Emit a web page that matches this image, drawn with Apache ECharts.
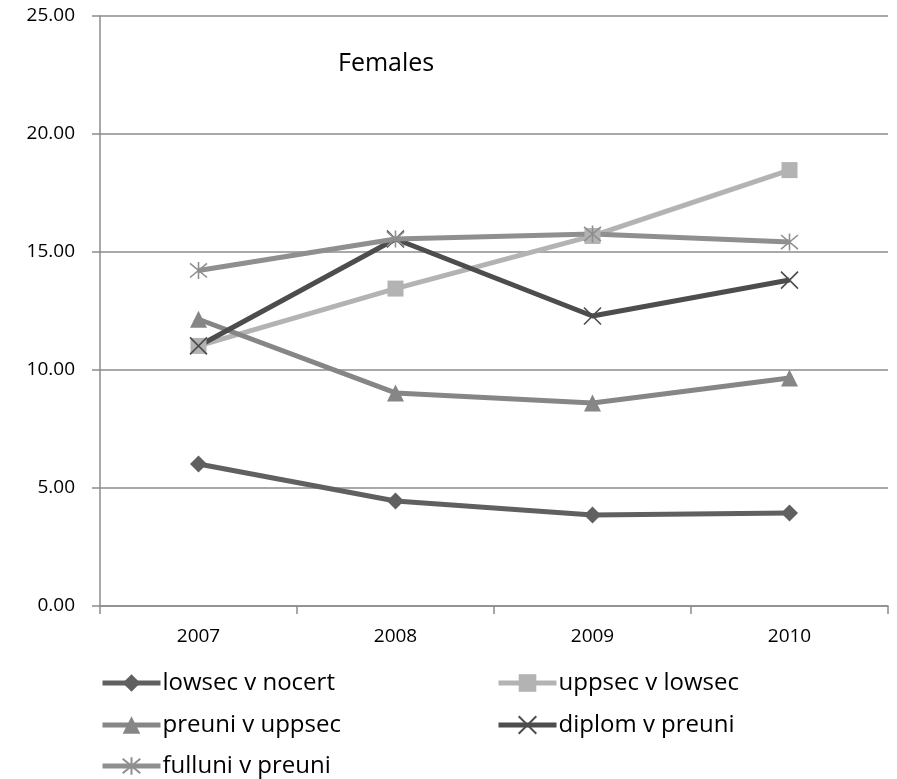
<!DOCTYPE html>
<html>
<head>
<meta charset="utf-8">
<script src="https://cdn.jsdelivr.net/npm/echarts@6/dist/echarts.min.js"></script>
<style>
html,body{margin:0;padding:0;background:#fff;}
#chart{width:897px;height:779px;}
</style>
</head>
<body>
<div id="chart"></div>
<script>
// Years on the category axis
const years = ['2007', '2008', '2009', '2010'];

// Transition ratios, females
const lowsecVNocert = [6.02, 4.45, 3.86, 3.94];
const uppsecVLowsec = [11.02, 13.45, 15.68, 18.47];
const preuniVUppsec = [12.15, 9.03, 8.60, 9.66];
const diplomVPreuni = [11.02, 15.55, 12.29, 13.81];
const fulluniVPreuni = [14.22, 15.55, 15.76, 15.42];

const yTicks = { min: 0, max: 25, step: 5 };

// Marker shapes drawn as stroked paths
const crossPath = 'path://M0,0 L10,10 M10,0 L0,10';
const starPath = 'path://M0,0 L10,10 M10,0 L0,10 M5,-1 L5,11';

const labelFont = '"Open Sans", "DejaVu Sans", sans-serif';
const legendFont = '"Open Sans", sans-serif';

function lineSeries(name, data, color, symbol, size, stroked) {
  return {
    name: name,
    type: 'line',
    data: data,
    symbol: symbol,
    symbolSize: size,
    showAllSymbol: true,
    lineStyle: { color: color, width: 5 },
    itemStyle: stroked
      ? { color: 'rgba(0,0,0,0)', borderColor: color, borderWidth: 1.6 }
      : { color: color, borderWidth: 0 },
    emphasis: { disabled: true },
    animation: false
  };
}

// One legend block per entry, laid out as a two-column grid
function legendAt(name, left, centerY) {
  return {
    left: left,
    top: centerY - 15,
    padding: 0,
    itemWidth: 58,
    itemHeight: 22,
    itemGap: 0,
    data: [name],
    lineStyle: { width: 5 },
    textStyle: { fontFamily: legendFont, fontSize: 24, lineHeight: 30, color: '#000', padding: [0, 0, 0, -3] },
    selectedMode: false
  };
}

const chart = echarts.init(document.getElementById('chart'), null, { renderer: 'canvas' });

chart.setOption({
  backgroundColor: '#ffffff',
  animation: false,
  title: {
    text: 'Females',
    left: 333,
    top: 46,
    textStyle: { fontFamily: '"Open Sans", sans-serif', fontSize: 25, fontWeight: 'normal', color: '#000' }
  },
  grid: { left: 100, right: 9, top: 16, bottom: 173, containLabel: false },
  xAxis: {
    type: 'category',
    data: years,
    boundaryGap: true,
    axisLine: { lineStyle: { color: '#8c8c8c', width: 1.5 } },
    axisTick: { show: true, length: 8, lineStyle: { color: '#8c8c8c', width: 1.5 } },
    axisLabel: { margin: 21, fontFamily: labelFont, fontSize: 19, color: '#000' },
    splitLine: { show: false }
  },
  yAxis: {
    type: 'value',
    min: yTicks.min,
    max: yTicks.max,
    interval: yTicks.step,
    axisLine: { show: true, lineStyle: { color: '#8c8c8c', width: 1.5 } },
    axisTick: { show: true, length: 8, lineStyle: { color: '#8c8c8c', width: 1.5 } },
    axisLabel: {
      margin: 25,
      fontFamily: labelFont,
      fontSize: 19,
      color: '#000',
      formatter: function (v) { return v.toFixed(2); }
    },
    splitLine: { show: true, lineStyle: { color: '#8c8c8c', width: 1.5 } }
  },
  legend: [
    legendAt('lowsec v nocert', 100, 683),
    legendAt('uppsec v lowsec', 496, 683),
    legendAt('preuni v uppsec', 100, 725),
    legendAt('diplom v preuni', 496, 725),
    legendAt('fulluni v preuni', 100, 766)
  ],
  series: [
    lineSeries('lowsec v nocert', lowsecVNocert, '#606060', 'diamond', 17, false),
    lineSeries('uppsec v lowsec', uppsecVLowsec, '#b3b3b3', 'rect', 16, false),
    lineSeries('preuni v uppsec', preuniVUppsec, '#868686', 'triangle', 17, false),
    lineSeries('diplom v preuni', diplomVPreuni, '#4d4d4d', crossPath, 17, true),
    lineSeries('fulluni v preuni', fulluniVPreuni, '#8f8f8f', starPath, 17, true)
  ]
});
</script>
</body>
</html>
